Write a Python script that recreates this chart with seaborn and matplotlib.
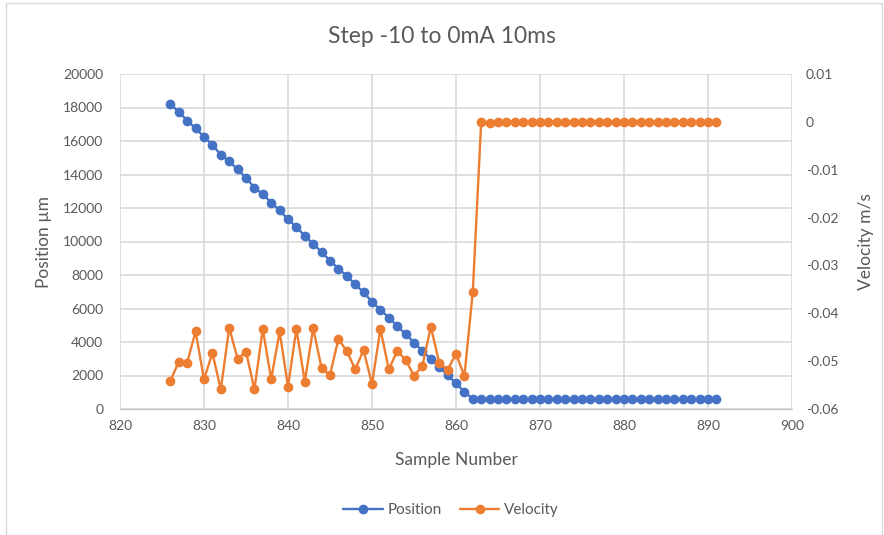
import numpy as np
import seaborn as sns
import matplotlib.pyplot as plt
from matplotlib.patches import Rectangle
from matplotlib.lines import Line2D
import pandas as pd

# sample numbers 826..891
samples = list(range(826, 892))

position = [18200, 17740, 17220, 16750, 16250, 15770, 15180, 14800, 14300, 13810,
            13210, 12830, 12320, 11860, 11320, 10870, 10330, 9870, 9360, 8860,
            8380, 7940, 7450, 6960, 6400, 5920, 5460, 4960, 4470, 3970,
            3470, 2980, 2480, 2030, 1530, 1030, 600] + [580] * 29

velocity = [-0.0541, -0.0501, -0.0503, -0.0438, -0.0538, -0.0483, -0.0559, -0.0430,
            -0.0495, -0.0480, -0.0559, -0.0433, -0.0538, -0.0438, -0.0553, -0.0433,
            -0.0543, -0.0431, -0.0515, -0.0529, -0.0454, -0.0479, -0.0517, -0.0477,
            -0.0548, -0.0433, -0.0517, -0.0479, -0.0497, -0.0531, -0.0510, -0.0428,
            -0.0503, -0.0518, -0.0485, -0.0531, -0.0355, 0.0, -0.0003] + [0.0] * 27

df = pd.DataFrame({"Sample": samples, "Position": position, "Velocity": velocity})

sns.set_style("white")
plt.rcParams['font.family'] = ['Lato', 'DejaVu Sans']
plt.rcParams['axes.unicode_minus'] = False

blue = "#4472C4"
orange = "#ED7D31"
txt = "#595959"
grid = "#D9D9D9"

fig = plt.figure(figsize=(8.84, 5.35), dpi=100)
ax = fig.add_axes([120 / 884, 1 - 409 / 535, 672 / 884, 335 / 535])
ax2 = ax.twinx()

sns.lineplot(data=df, x="Sample", y="Position", ax=ax, color=blue, marker="o",
             markersize=7, markeredgewidth=0, linewidth=1.7, zorder=3)
sns.lineplot(data=df, x="Sample", y="Velocity", ax=ax2, color=orange, marker="o",
             markersize=7, markeredgewidth=0, linewidth=1.7, zorder=3)

ax.set_xlim(820, 900)
ax.set_xticks(range(820, 901, 10))
ax.set_ylim(0, 20000)
ax.set_yticks(range(0, 20001, 2000))
ax2.set_ylim(-0.06, 0.01)
ax2.set_yticks([-0.06, -0.05, -0.04, -0.03, -0.02, -0.01, 0, 0.01])
ax2.set_yticklabels(["-0.06", "-0.05", "-0.04", "-0.03", "-0.02", "-0.01", "0", "0.01"])

ax.grid(True, color=grid, linewidth=1.2)
ax.set_axisbelow(True)
for a in (ax, ax2):
    for s in a.spines.values():
        s.set_visible(False)
    a.tick_params(length=0, labelsize=10, colors=txt)
ax.spines['bottom'].set_visible(True)
ax.spines['bottom'].set_color("#BFBFBF")
ax.tick_params(axis='y', pad=12)
ax.tick_params(axis='x', pad=8)
ax2.tick_params(axis='y', pad=10)

ax.set_xlabel("Sample Number", fontsize=12.5, color=txt, labelpad=14)
ax.set_ylabel("Position µm", fontsize=12.5, color=txt, labelpad=8)
ax2.set_ylabel("Velocity m/s", fontsize=12.5, color=txt, labelpad=14)

fig.text(0.5, 1 - 37 / 535, "Step -10 to 0mA 10ms", ha="center", va="center",
         fontsize=16.5, color=txt)

handles = [Line2D([], [], color=blue, marker="o", markersize=7, markeredgewidth=0, linewidth=1.7),
           Line2D([], [], color=orange, marker="o", markersize=7, markeredgewidth=0, linewidth=1.7)]
fig.legend(handles, ["Position", "Velocity"], loc="center", bbox_to_anchor=(0.51, 1 - 510 / 535),
           ncol=2, frameon=False, fontsize=11, labelcolor=txt, handlelength=2.6,
           columnspacing=1.2, handletextpad=0.3)

fig.patches.append(Rectangle((6 / 884, 0), 876 / 884, 1 - 3 / 535, transform=fig.transFigure,
                             fill=False, edgecolor=grid, linewidth=1))

fig.savefig("out.png", dpi=100)
